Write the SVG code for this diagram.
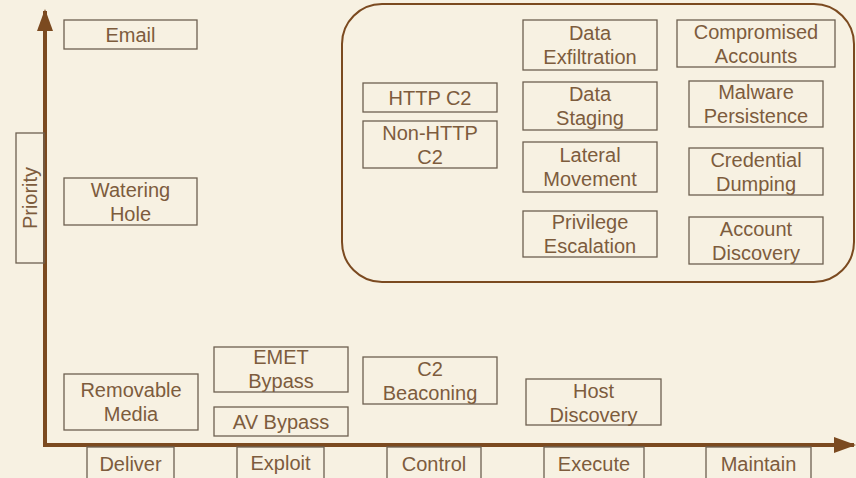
<svg xmlns="http://www.w3.org/2000/svg" width="856" height="478" viewBox="0 0 856 478">
<style>
.bg{fill:#f7f1e2}
.box{fill:none;stroke:#6e6050;stroke-width:1.3}
.t{font-family:"Liberation Sans",Arial,sans-serif;font-size:20px;fill:#7d5c3d;text-anchor:middle}
.axis{stroke:#7b4a20;stroke-width:4;fill:none}
.grp{fill:none;stroke:#7b4a20;stroke-width:2}
</style>
<defs>
<marker id="ah" viewBox="0 0 22 16" refX="20" refY="8" markerWidth="5.5" markerHeight="4" orient="auto" markerUnits="strokeWidth">
<path d="M0,0 L22,8 L0,16 z" fill="#7b4a20"/>
</marker>
</defs>
<rect class="bg" x="0" y="0" width="856" height="478"/>
<g id="group-box"><rect class="grp" x="342" y="4" width="512" height="278" rx="40"/></g>
<g id="axes">
<line class="axis" x1="45" y1="447" x2="45" y2="11" marker-end="url(#ah)"/>
<line class="axis" x1="43" y1="445" x2="854" y2="445" marker-end="url(#ah)"/>
</g>
<g id="priority"><rect class="box" x="16" y="133" width="28" height="130"/><text class="t" transform="translate(37,198) rotate(-90)">Priority</text></g>
<g id="email"><rect class="box" x="64" y="20" width="133" height="29"/><text class="t" x="130.5" y="42">Email</text></g>
<g id="watering"><rect class="box" x="64" y="178" width="133" height="47"/><text class="t" x="130.5" y="197">Watering</text><text class="t" x="130.5" y="221">Hole</text></g>
<g id="removable"><rect class="box" x="64" y="374" width="134" height="56"/><text class="t" x="131" y="397">Removable</text><text class="t" x="131" y="421">Media</text></g>
<g id="emet"><rect class="box" x="214" y="347" width="134" height="45"/><text class="t" x="281" y="364">EMET</text><text class="t" x="281" y="388">Bypass</text></g>
<g id="av"><rect class="box" x="214" y="407" width="134" height="29"/><text class="t" x="281" y="429">AV Bypass</text></g>
<g id="c2beacon"><rect class="box" x="363" y="357" width="134" height="47"/><text class="t" x="430" y="376">C2</text><text class="t" x="430" y="400">Beaconing</text></g>
<g id="hostdisc"><rect class="box" x="526" y="379" width="135" height="46"/><text class="t" x="593.5" y="398">Host</text><text class="t" x="593.5" y="422">Discovery</text></g>
<g id="httpc2"><rect class="box" x="363" y="83" width="134" height="29"/><text class="t" x="430" y="105">HTTP C2</text></g>
<g id="nonhttp"><rect class="box" x="363" y="121" width="134" height="47"/><text class="t" x="430" y="140">Non-HTTP</text><text class="t" x="430" y="164">C2</text></g>
<g id="exfil"><rect class="box" x="523" y="20" width="134" height="50"/><text class="t" x="590" y="40">Data</text><text class="t" x="590" y="64">Exfiltration</text></g>
<g id="staging"><rect class="box" x="523" y="82" width="134" height="48"/><text class="t" x="590" y="101">Data</text><text class="t" x="590" y="125">Staging</text></g>
<g id="lateral"><rect class="box" x="523" y="142" width="134" height="50"/><text class="t" x="590" y="162">Lateral</text><text class="t" x="590" y="186">Movement</text></g>
<g id="privesc"><rect class="box" x="523" y="211" width="134" height="46"/><text class="t" x="590" y="229">Privilege</text><text class="t" x="590" y="253">Escalation</text></g>
<g id="compacc"><rect class="box" x="677" y="20" width="158" height="47"/><text class="t" x="756" y="39">Compromised</text><text class="t" x="756" y="63">Accounts</text></g>
<g id="malpers"><rect class="box" x="689" y="81" width="134" height="46"/><text class="t" x="756" y="99">Malware</text><text class="t" x="756" y="123">Persistence</text></g>
<g id="creddump"><rect class="box" x="689" y="148" width="134" height="47"/><text class="t" x="756" y="167">Credential</text><text class="t" x="756" y="191">Dumping</text></g>
<g id="accdisc"><rect class="box" x="689" y="217" width="134" height="47"/><text class="t" x="756" y="236">Account</text><text class="t" x="756" y="260">Discovery</text></g>
<g id="deliver"><rect class="box" x="87" y="447" width="87" height="40"/><text class="t" x="130.5" y="471">Deliver</text></g>
<g id="exploit"><rect class="box" x="237" y="447" width="87" height="40"/><text class="t" x="280.5" y="470">Exploit</text></g>
<g id="control"><rect class="box" x="387" y="447" width="94" height="40"/><text class="t" x="434" y="471">Control</text></g>
<g id="execute"><rect class="box" x="544" y="447" width="100" height="40"/><text class="t" x="594" y="471">Execute</text></g>
<g id="maintain"><rect class="box" x="706" y="447" width="105" height="40"/><text class="t" x="758.5" y="471">Maintain</text></g>
</svg>
